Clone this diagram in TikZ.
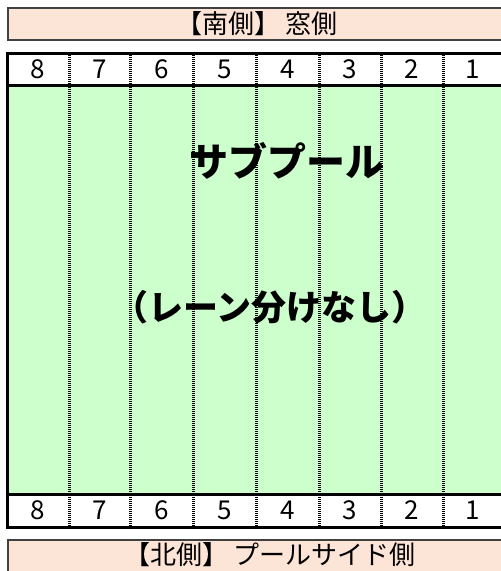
\documentclass[tikz,border=0pt]{standalone}
\usepackage{fontspec}
\setmainfont{Noto Sans CJK JP}
\definecolor{peach}{HTML}{FCE4D6}
\definecolor{poolgreen}{HTML}{CCFFCC}
\definecolor{edgegray}{HTML}{404040}
\tikzset{
  header/.style={draw=edgegray, line width=1.5pt, fill=peach},
  thick rule/.style={line width=3pt, black},
  lane rule/.style={line width=3pt, black, dash pattern=on 1pt off 1pt},
  lanenum/.style={font=\fontsize{26}{26}\selectfont, anchor=center, inner sep=0pt},
  headtext/.style={font=\fontsize{26}{26}\selectfont, anchor=center, inner sep=0pt},
  bigtext/.style={font=\fontsize{39}{39}\selectfont\bfseries, anchor=center, inner sep=0pt},
  bigtextb/.style={font=\fontsize{35}{35}\selectfont\bfseries, anchor=center, inner sep=0pt}
}
\begin{document}
\begin{tikzpicture}[x=1pt,y=-1pt]
\useasboundingbox (0,0) rectangle (501,571);
\begin{scope}
\clip (0,0) rectangle (501,571);
% headers
\draw[header] (8,8) rectangle (510,40);
\draw[header] (8,540) rectangle (510,580);
% table body
\fill[white] (7,53) rectangle (510,527);
\fill[poolgreen] (7,85) rectangle (510,494);
% lane lines
\foreach \x in {69.5,130.5,193.5,256.5,319.5,381.5,443.5} {
  \draw[lane rule] (\x,53) -- (\x,527);
}
% horizontal thick rules
\draw[thick rule] (7,53.5) -- (510,53.5);
\draw[thick rule] (7,85.5) -- (510,85.5);
\draw[thick rule] (7,494.5) -- (510,494.5);
\draw[thick rule] (7,527.5) -- (510,527.5);
\draw[thick rule] (7.5,52) -- (7.5,529);
\end{scope}
% texts
\node[headtext] (south) at (257,24) {【南側】 窓側};
\node[headtext] (north) at (270,555) {【北側】 プールサイド側};
\foreach \n/\x [count=\k] in {8/38,7/100,6/162,5/225,4/288,3/350,2/412,1/473} {
  \node[lanenum] (top\n) at (\x,69.5) {\n};
  \node[lanenum] (bot\n) at (\x,510.5) {\n};
}
\node[bigtext] (sub) at (287,161) {サブプール};
\node[bigtextb] (nolane) at (270,307) {（レーン分けなし）};
\end{tikzpicture}
\end{document}
